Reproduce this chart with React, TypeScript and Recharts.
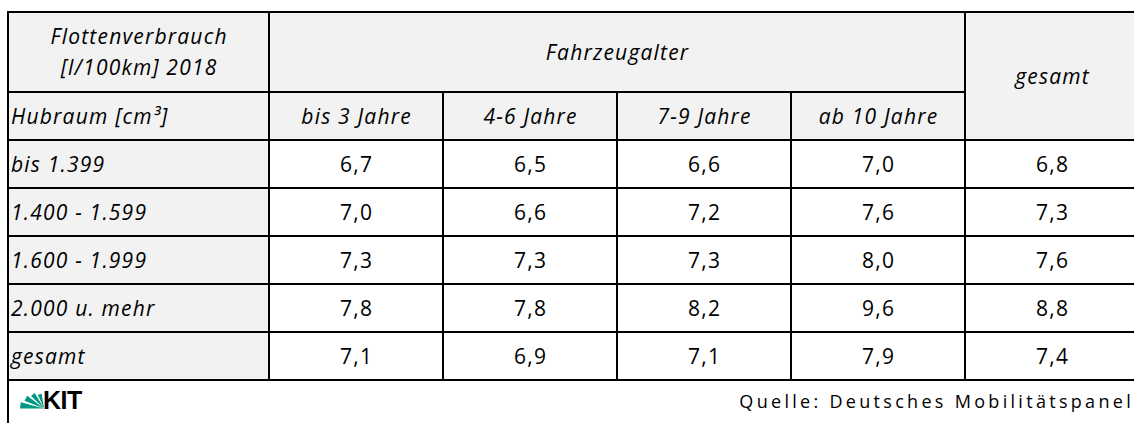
import React from "react";
import { ScatterChart, Scatter, XAxis, YAxis, ReferenceArea, ReferenceLine } from "recharts";

// ---------- data ----------
const titleLines = ["Flottenverbrauch", "[l/100km] 2018"];
const groupLabel = "Fahrzeugalter";
const rowHeaderLabel = "Hubraum [cm³]";
const ageLabels = ["bis 3 Jahre", "4-6 Jahre", "7-9 Jahre", "ab 10 Jahre"];
const totalLabel = "gesamt";
const rowLabels = ["bis 1.399", "1.400 - 1.599", "1.600 - 1.999", "2.000 u. mehr", "gesamt"];
const bis3Jahre = [6.7, 7.0, 7.3, 7.8, 7.1];
const jahre4bis6 = [6.5, 6.6, 7.3, 7.8, 6.9];
const jahre7bis9 = [6.6, 7.2, 7.3, 8.2, 7.1];
const ab10Jahre = [7.0, 7.6, 8.0, 9.6, 7.9];
const gesamtWerte = [6.8, 7.3, 7.6, 8.8, 7.4];
const sourceLabel = "Quelle: Deutsches Mobilitätspanel";

const seriesByColumn = [bis3Jahre, jahre4bis6, jahre7bis9, ab10Jahre, gesamtWerte];

// ---------- layout (in table units) ----------
const FIRST_COL = 1.5;
const HEAD1 = 5 / 3;
const HEAD2 = 1;
const FOOT = 43 / 48;
const NCOLS = 5;
const X_MAX = FIRST_COL + NCOLS;
const DATA_TOP = HEAD1 + HEAD2;
const Y_MAX = DATA_TOP + rowLabels.length + FOOT;

const FONT = "'Open Sans', 'Noto Sans', sans-serif";
const GRAY = "#f2f2f2";
const TEXT_SIZE = 21;
const TEXT_LS = 1.2;

const colX1 = (i: number) => FIRST_COL + i; // data column i (0..4)

type Cell = { x1: number; x2: number; y1: number; y2: number; fill: string };
const cells: Cell[] = [];
// header
cells.push({ x1: 0, x2: FIRST_COL, y1: 0, y2: HEAD1, fill: GRAY });
cells.push({ x1: 0, x2: FIRST_COL, y1: HEAD1, y2: DATA_TOP, fill: GRAY });
cells.push({ x1: colX1(0), x2: colX1(4), y1: 0, y2: HEAD1, fill: GRAY });
ageLabels.forEach((_, i) => cells.push({ x1: colX1(i), x2: colX1(i + 1), y1: HEAD1, y2: DATA_TOP, fill: GRAY }));
cells.push({ x1: colX1(4), x2: colX1(5), y1: 0, y2: DATA_TOP, fill: GRAY });
// body
rowLabels.forEach((_, r) => {
  const y1 = DATA_TOP + r;
  cells.push({ x1: 0, x2: FIRST_COL, y1, y2: y1 + 1, fill: GRAY });
  seriesByColumn.forEach((_, c) => cells.push({ x1: colX1(c), x2: colX1(c + 1), y1, y2: y1 + 1, fill: "#ffffff" }));
});

type TextPt = {
  x: number; y: number; text: string; italic?: boolean; anchor: "start" | "middle" | "end";
  dx?: number; size?: number; ls?: number; kind?: string;
};
const fmt = (v: number) => v.toFixed(1).replace(".", ",");
const texts: TextPt[] = [];
texts.push({ x: FIRST_COL / 2, y: HEAD1 / 2, text: titleLines.join("\n"), italic: true, anchor: "middle" });
texts.push({ x: (colX1(0) + colX1(4)) / 2, y: HEAD1 / 2, text: groupLabel, italic: true, anchor: "middle" });
texts.push({ x: (colX1(4) + colX1(5)) / 2, y: DATA_TOP / 2, text: totalLabel, italic: true, anchor: "middle" });
texts.push({ x: 0, y: HEAD1 + HEAD2 / 2, text: rowHeaderLabel, italic: true, anchor: "start", dx: 3 });
ageLabels.forEach((l, i) => texts.push({ x: colX1(i) + 0.5, y: HEAD1 + HEAD2 / 2, text: l, italic: true, anchor: "middle" }));
rowLabels.forEach((l, r) => {
  const yc = DATA_TOP + r + 0.5;
  texts.push({ x: 0, y: yc, text: l, italic: true, anchor: "start", dx: 3 });
  seriesByColumn.forEach((s, c) => texts.push({ x: colX1(c) + 0.5, y: yc, text: fmt(s[r]), anchor: "middle" }));
});
const footY = DATA_TOP + rowLabels.length + FOOT / 2;
texts.push({ x: 0, y: footY, text: "KIT", anchor: "start", kind: "logo" });
texts.push({ x: X_MAX, y: footY, text: sourceLabel, anchor: "end", dx: -5, size: 18, ls: 3.3 });

const renderText = (p: any) => {
  const d: TextPt = p.payload;
  if (d.kind === "logo") {
    const ox = p.cx + 36; // fan origin (bottom-right of the green mark)
    const oy = p.cy + 7;
    const wedges = [180, 158, 136, 114];
    return (
      <g>
        {wedges.map((a, i) => {
          const r = 24 - i * 3;
          const a1 = (a * Math.PI) / 180;
          const a2 = ((a - 15) * Math.PI) / 180;
          return (
            <polygon
              key={i}
              points={`${ox},${oy} ${ox + r * Math.cos(a1)},${oy - r * Math.sin(a1)} ${ox + r * Math.cos(a2)},${oy - r * Math.sin(a2)}`}
              fill="#009682"
            />
          );
        })}
        <text x={ox - 1} y={oy} fontFamily="'Liberation Sans', Arial, sans-serif" fontWeight={700} fontSize={25} letterSpacing={-0.5} fill="#000">
          KIT
        </text>
      </g>
    );
  }
  const lines = d.text.split("\n");
  const size = d.size ?? TEXT_SIZE;
  const ls = d.ls ?? TEXT_LS;
  const lh = 31;
  const x = p.cx + (d.dx ?? 0) + (d.anchor === "middle" ? ls / 2 : 0);
  const base = size * 0.36;
  return (
    <text
      x={x}
      y={p.cy}
      textAnchor={d.anchor}
      fontStyle={d.italic ? "italic" : "normal"}
      fontSize={size}
      fontFamily={FONT}
      letterSpacing={ls}
      fill="#000"
    >
      {lines.map((l, i) => (
        <tspan key={i} x={x} dy={i === 0 ? -((lines.length - 1) / 2) * lh + base : lh}>
          {l}
        </tspan>
      ))}
    </text>
  );
};

export default function App() {
  return (
    <div style={{ position: "absolute", left: 0, top: 0, width: 1134, height: 423, overflow: "hidden", background: "#fff" }}>
      <ScatterChart width={1139} height={423} margin={{ top: 12, right: 0, bottom: 0, left: 8 }}>
        <XAxis type="number" dataKey="x" domain={[0, X_MAX]} hide />
        <YAxis type="number" dataKey="y" domain={[0, Y_MAX]} reversed hide />
        {cells.map((c, i) => (
          <ReferenceArea
            key={i}
            x1={c.x1}
            x2={c.x2}
            y1={c.y1}
            y2={c.y2}
            fill={c.fill}
            fillOpacity={1}
            stroke="#000"
            strokeWidth={2}
            ifOverflow="visible"
          />
        ))}
        <ReferenceLine
          segment={[{ x: 0, y: DATA_TOP + rowLabels.length }, { x: 0, y: Y_MAX }]}
          stroke="#000"
          strokeWidth={2}
          ifOverflow="visible"
        />
        <Scatter data={texts} dataKey="y" shape={renderText} isAnimationActive={false} />
      </ScatterChart>
    </div>
  );
}
